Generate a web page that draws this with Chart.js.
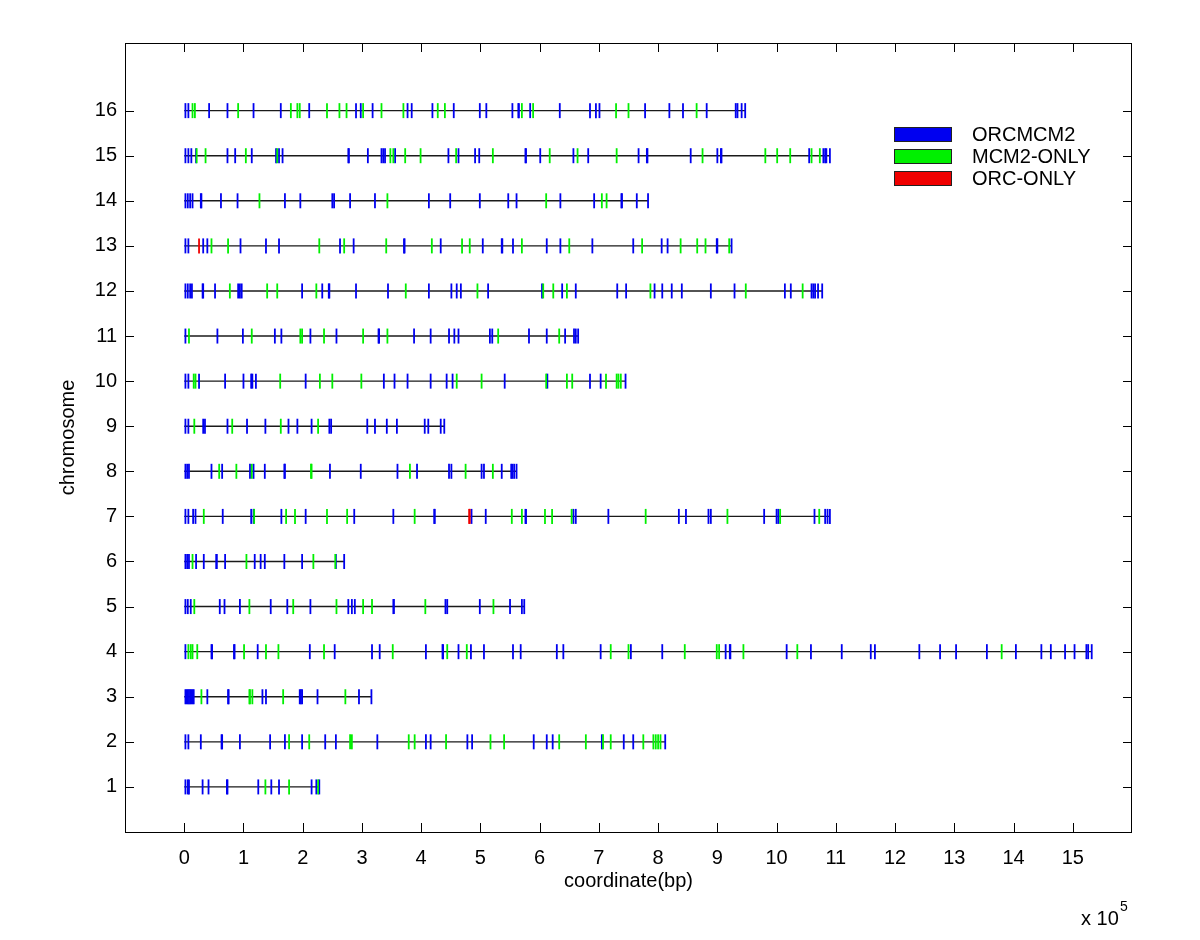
<!DOCTYPE html>
<html><head><meta charset="utf-8">
<script src="https://cdn.jsdelivr.net/npm/chart.js@4.4.0/dist/chart.umd.min.js"></script>
<style>html,body{margin:0;padding:0;background:#fff;}canvas{display:block;}</style>
</head><body>
<canvas id="c" width="1200" height="940"></canvas>
<script>
// ---------- DATA (positions in units of 10^5 bp) ----------
const chromosomes = [1,2,3,4,5,6,7,8,9,10,11,12,13,14,15,16];
const chrLength = [2.28,8.12,3.16,15.32,5.74,2.70,10.90,5.61,4.39,7.45,6.65,10.77,9.24,7.83,10.90,9.47];
const xTickValues = [0,1,2,3,4,5,6,7,8,9,10,11,12,13,14,15];
const yTickValues = [1,2,3,4,5,6,7,8,9,10,11,12,13,14,15,16];
const seriesNames = ['ORCMCM2','MCM2-ONLY','ORC-ONLY'];

const orcmcm2_chr1 = [0.02,0.06,0.08,0.31,0.41,0.72,0.73,1.25,1.47,1.60,2.15,2.23,2.28];
const mcm2only_chr1 = [1.37,1.77,2.26];
const orcmcm2_chr2 = [0.02,0.07,0.28,0.63,0.64,0.94,1.45,1.70,1.99,2.38,2.56,3.26,4.08,4.16,4.78,4.86,5.90,6.12,6.22,7.05,7.42,7.58,8.12];
const mcm2only_chr2 = [1.77,2.11,2.80,2.83,3.79,3.89,4.42,5.17,5.40,6.33,6.78,7.07,7.20,7.75,7.92,7.96,8.00,8.04];
const orcmcm2_chr3 = [0.02,0.04,0.06,0.08,0.10,0.12,0.14,0.16,0.39,0.74,0.75,1.32,1.38,1.95,1.97,1.99,2.25,2.95,3.16];
const mcm2only_chr3 = [0.29,1.10,1.11,1.15,1.67,2.72];
const orcmcm2_chr4 = [0.02,0.46,0.47,0.84,0.85,1.24,2.12,2.54,3.17,3.30,4.08,4.36,4.37,4.63,4.84,5.06,5.55,5.68,6.29,6.40,7.03,7.54,8.07,9.14,9.21,9.22,10.17,10.58,11.10,11.59,11.66,12.41,12.76,13.03,13.55,14.04,14.47,14.63,14.87,15.03,15.23,15.26,15.32];
const mcm2only_chr4 = [0.07,0.11,0.14,0.22,1.01,1.38,1.59,2.36,3.52,4.44,4.77,7.20,7.50,8.45,8.99,9.03,9.44,10.35,13.80];
const orcmcm2_chr5 = [0.02,0.06,0.11,0.60,0.68,0.94,1.46,1.74,2.13,2.77,2.83,2.88,3.53,3.54,4.41,4.44,4.99,5.50,5.70,5.74];
const mcm2only_chr5 = [0.17,1.10,1.84,2.57,3.02,3.17,4.07,5.22];
const orcmcm2_chr6 = [0.02,0.05,0.08,0.20,0.33,0.54,0.55,0.69,1.19,1.29,1.36,1.69,1.99,2.56,2.70];
const mcm2only_chr6 = [0.14,1.05,2.18,2.55];
const orcmcm2_chr7 = [0.02,0.07,0.15,0.19,0.65,1.13,1.17,1.64,2.05,2.87,3.53,4.22,4.23,4.85,5.09,5.76,5.77,6.57,6.61,7.16,8.35,8.47,8.85,8.89,9.79,10.00,10.03,10.64,10.82,10.86,10.90];
const mcm2only_chr7 = [0.33,1.18,1.72,1.87,2.41,2.75,3.89,5.53,5.70,6.09,6.21,6.54,7.79,9.17,10.06,10.72];
const orconly_chr7 = [4.81,4.82];
const orcmcm2_chr8 = [0.02,0.05,0.08,0.46,0.64,1.11,1.17,1.36,1.69,1.70,2.46,2.98,3.60,3.93,4.47,4.51,5.02,5.06,5.36,5.52,5.54,5.57,5.61];
const mcm2only_chr8 = [0.59,0.88,1.14,2.14,2.15,3.81,4.75,5.21];
const orcmcm2_chr9 = [0.02,0.07,0.32,0.35,0.73,1.06,1.37,1.76,1.91,2.15,2.45,2.48,3.09,3.22,3.42,3.59,4.06,4.12,4.33,4.39];
const mcm2only_chr9 = [0.17,0.81,1.63,2.26];
const orcmcm2_chr10 = [0.02,0.07,0.25,0.69,1.00,1.13,1.15,1.21,2.05,3.37,3.55,3.77,4.16,4.43,4.53,5.41,6.13,6.85,7.03,7.45];
const mcm2only_chr10 = [0.16,0.19,1.62,2.29,2.50,2.99,4.60,5.02,6.11,6.46,6.55,7.12,7.30,7.33,7.37];
const orcmcm2_chr11 = [0.02,0.56,0.99,1.53,1.64,2.13,2.57,3.28,3.29,3.88,4.16,4.47,4.56,4.63,5.16,5.20,5.82,6.12,6.43,6.58,6.61,6.65];
const mcm2only_chr11 = [0.08,1.14,1.96,1.99,2.36,3.02,3.43,5.30,6.33];
const orcmcm2_chr12 = [0.02,0.06,0.10,0.13,0.31,0.32,0.52,0.91,0.94,0.97,1.99,2.33,2.44,2.45,2.90,3.44,4.13,4.51,4.60,4.67,5.13,6.04,6.38,6.61,7.31,7.46,7.94,8.07,8.23,8.40,8.89,9.29,10.14,10.24,10.59,10.62,10.65,10.70,10.77];
const mcm2only_chr12 = [0.77,1.40,1.57,2.23,3.74,4.95,6.06,6.23,6.46,7.87,9.48,10.44];
const orcmcm2_chr13 = [0.02,0.07,0.32,0.39,0.95,1.38,1.60,2.63,2.86,3.71,3.72,4.33,5.04,5.36,5.37,5.55,6.12,6.35,6.89,7.58,8.06,8.16,8.99,9.00,9.24];
const mcm2only_chr13 = [0.46,0.74,2.28,2.70,3.41,4.18,4.69,4.82,5.70,6.50,7.73,8.38,8.66,8.80,9.20];
const orconly_chr13 = [0.25];
const orcmcm2_chr14 = [0.02,0.06,0.10,0.14,0.28,0.29,0.62,0.90,1.70,1.96,2.50,2.53,2.80,3.22,4.13,4.49,4.99,5.47,5.61,6.35,6.92,7.38,7.39,7.64,7.83];
const mcm2only_chr14 = [1.27,3.43,6.11,7.05,7.13];
const orcmcm2_chr15 = [0.02,0.07,0.12,0.20,0.73,0.86,1.14,1.55,1.60,1.66,2.77,2.78,3.10,3.33,3.36,3.39,3.56,4.46,4.63,4.91,4.98,5.76,5.77,6.01,6.57,6.82,7.67,7.81,7.82,8.55,9.00,9.06,9.07,10.55,10.79,10.82,10.84,10.90];
const mcm2only_chr15 = [0.21,0.36,1.04,1.57,3.48,3.53,3.73,3.99,4.59,5.21,6.17,6.64,7.30,8.75,9.81,10.01,10.23,10.59,10.73];
const orcmcm2_chr16 = [0.02,0.07,0.42,0.73,1.17,1.63,2.11,2.90,2.98,3.18,3.77,3.84,4.19,4.55,4.99,5.10,5.54,5.64,5.65,5.84,6.34,6.85,6.95,7.01,7.78,8.19,8.42,8.82,9.31,9.34,9.41,9.47];
const mcm2only_chr16 = [0.14,0.18,0.91,1.80,1.91,1.95,2.41,2.62,2.74,3.02,3.33,3.70,4.28,4.40,5.70,5.89,7.29,7.50,8.65];

// ---------- assemble ----------
const orcmcm2 = [orcmcm2_chr1,orcmcm2_chr2,orcmcm2_chr3,orcmcm2_chr4,orcmcm2_chr5,orcmcm2_chr6,orcmcm2_chr7,orcmcm2_chr8,orcmcm2_chr9,orcmcm2_chr10,orcmcm2_chr11,orcmcm2_chr12,orcmcm2_chr13,orcmcm2_chr14,orcmcm2_chr15,orcmcm2_chr16];
const mcm2only = [mcm2only_chr1,mcm2only_chr2,mcm2only_chr3,mcm2only_chr4,mcm2only_chr5,mcm2only_chr6,mcm2only_chr7,mcm2only_chr8,mcm2only_chr9,mcm2only_chr10,mcm2only_chr11,mcm2only_chr12,mcm2only_chr13,mcm2only_chr14,mcm2only_chr15,mcm2only_chr16];
const orconly = {7: orconly_chr7, 13: orconly_chr13};

function toPoints(lists){
  const pts=[];
  lists.forEach((arr,i)=>{ if(arr) arr.forEach(v=>pts.push({x:v,y:chromosomes[i]})); });
  return pts;
}
const orconlyLists = chromosomes.map(c=>orconly[c]||null);

const FONT = "'Liberation Sans', Arial, Helvetica, sans-serif";
Chart.defaults.font.family = FONT;
Chart.defaults.color = '#000';

const colors = ['#0000f0','#00f000','#f00000'];

const datasets = [];
chromosomes.forEach((c,i)=>{
  datasets.push({type:'line', label:'chr'+c, data:[{x:0,y:c},{x:chrLength[i],y:c}],
    borderColor:'#1a1a1a', borderWidth:1.4, pointRadius:0, pointHoverRadius:0, order:5, isBackbone:true});
});
[orcmcm2, mcm2only, orconlyLists].forEach((lists,k)=>{
  datasets.push({type:'scatter', label:seriesNames[k], data:toPoints(lists),
    pointStyle:'line', pointRotation:90, pointRadius:7.5, pointHoverRadius:7.5,
    pointBorderColor:colors[k], borderColor:colors[k], backgroundColor:colors[k],
    pointBorderWidth:1.8, pointHoverBorderWidth:1.8, order:3-k});
});

const framePlugin = {
  id:'frame',
  beforeDraw(chart){
    const ctx=chart.ctx; ctx.save(); ctx.fillStyle='#fff'; ctx.fillRect(0,0,chart.width,chart.height); ctx.restore();
  },
  afterDraw(chart){
    const {ctx, chartArea:{left,right,top,bottom}, scales:{x,y}} = chart;
    ctx.save();
    ctx.strokeStyle='#000'; ctx.lineWidth=1;
    ctx.strokeRect(left+0.5, top+0.5, right-left-1, bottom-top);
    const tl=9;
    ctx.beginPath();
    xTickValues.forEach(v=>{
      const px=Math.round(x.getPixelForValue(v))+0.5;
      ctx.moveTo(px,bottom); ctx.lineTo(px,bottom-tl);
      ctx.moveTo(px,top); ctx.lineTo(px,top+tl);
    });
    yTickValues.forEach(v=>{
      const py=Math.round(y.getPixelForValue(v))+0.5;
      ctx.moveTo(left,py); ctx.lineTo(left+tl,py);
      ctx.moveTo(right,py); ctx.lineTo(right-tl,py);
    });
    ctx.stroke();
    // legend
    const markSets = chart.data.datasets.filter(d=>!d.isBackbone);
    ctx.font = '20px '+FONT; ctx.textBaseline='middle'; ctx.textAlign='left';
    markSets.forEach((d,i)=>{
      const by = 127 + i*22;
      ctx.fillStyle=d.pointBorderColor; ctx.fillRect(894,by,57,14);
      ctx.strokeStyle='#222'; ctx.lineWidth=1; ctx.strokeRect(894.5,by+0.5,57,14);
      ctx.fillStyle='#000'; ctx.fillText(d.label, 972, by+8);
    });
    // exponent label
    ctx.font='20px '+FONT; ctx.textBaseline='alphabetic';
    ctx.fillText('x 10', 1081, 925);
    ctx.font='14px '+FONT;
    ctx.fillText('5', 1120, 911);
    ctx.restore();
  }
};

new Chart(document.getElementById('c'), {
  type:'scatter',
  data:{datasets},
  options:{
    responsive:false, animation:false, devicePixelRatio:1,
    layout:{padding:{top:43,right:68,left:0,bottom:0}},
    plugins:{legend:{display:false}, tooltip:{enabled:false}},
    events:[],
    scales:{
      x:{type:'linear', min:-1, max:16,
        afterBuildTicks:(s)=>{ s.ticks = xTickValues.map(v=>({value:v})); },
        afterFit:(s)=>{ s.height=108; },
        grid:{display:false, drawTicks:false}, border:{display:false},
        ticks:{font:{size:20}, color:'#000', padding:14, maxRotation:0, autoSkip:false},
        title:{display:true, text:'coordinate(bp)', font:{size:20}, color:'#000', padding:{top:0,bottom:47}}
      },
      y:{type:'linear', min:0, max:17.5,
        afterBuildTicks:(s)=>{ s.ticks = yTickValues.map(v=>({value:v})); },
        afterFit:(s)=>{ s.width=125; },
        grid:{display:false, drawTicks:false}, border:{display:false},
        ticks:{font:{size:20}, color:'#000', padding:8, autoSkip:false},
        title:{display:true, text:'chromosome', font:{size:20}, color:'#000', padding:{top:56,bottom:0}}
      }
    }
  },
  plugins:[framePlugin]
});
</script>
</body></html>
